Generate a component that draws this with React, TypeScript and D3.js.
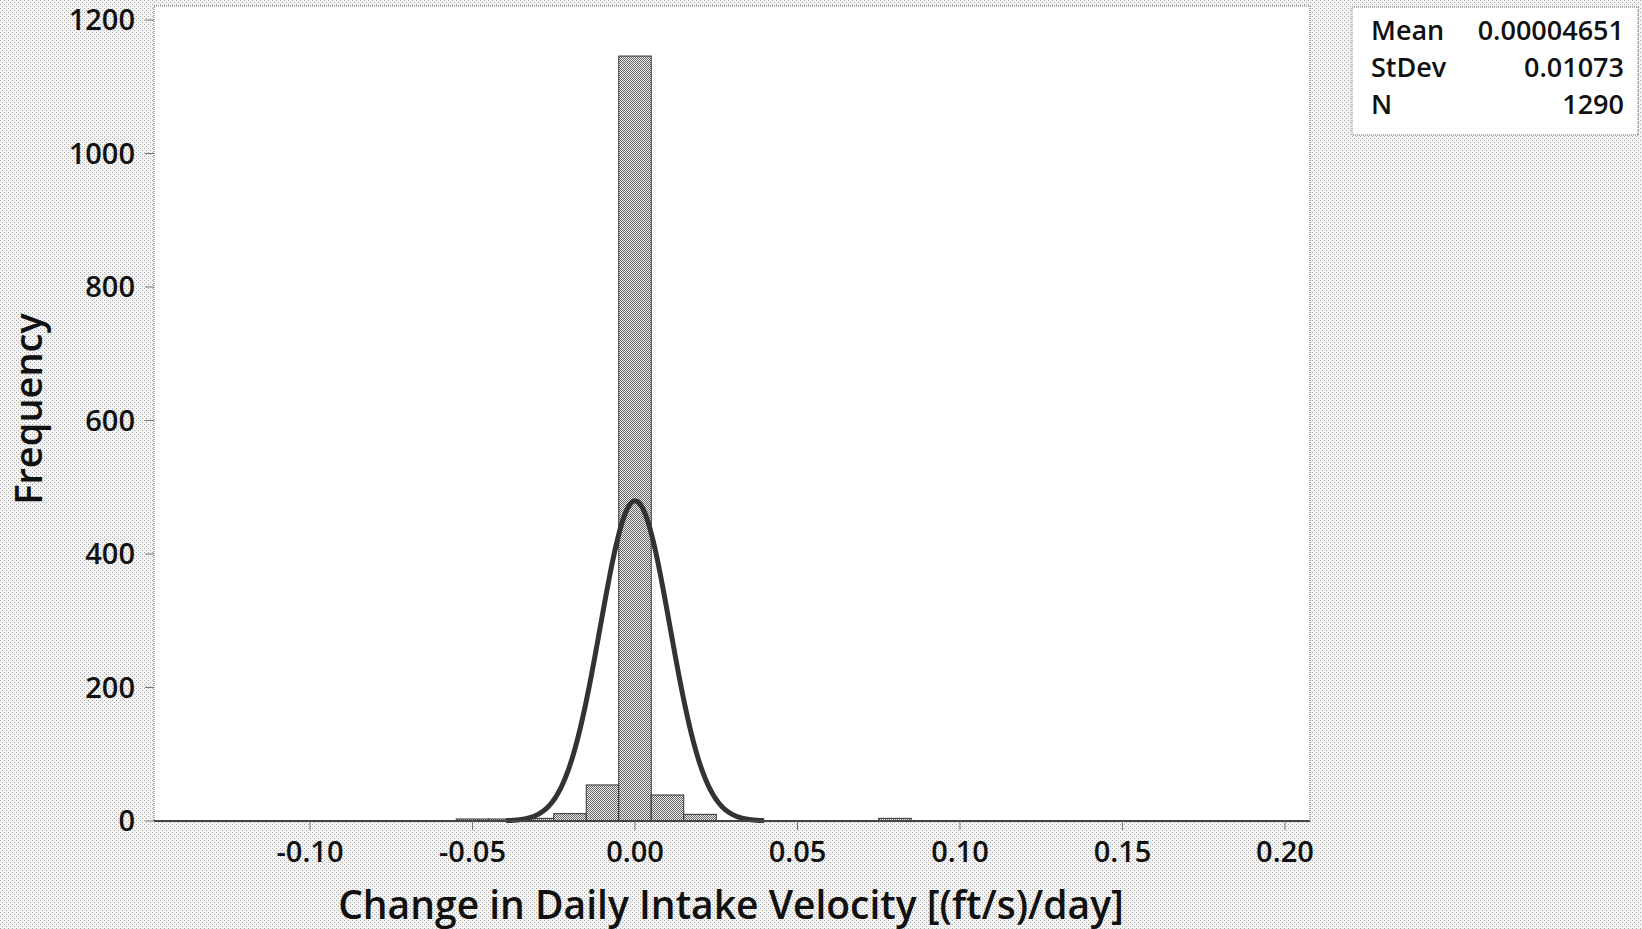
import React from "react";
import * as d3 from "d3";

const binCenters = [-0.05, -0.04, -0.03, -0.02, -0.01, 0.0, 0.01, 0.02, 0.08];
const binCounts = [3, 3, 4, 11, 54, 1146, 39, 10, 4];
const binWidth = 0.01;
const xTicks = [-0.1, -0.05, 0, 0.05, 0.1, 0.15, 0.2];
const yTicks = [0, 200, 400, 600, 800, 1000, 1200];
const statLabels = ["Mean", "StDev", "N"];
const statValues = ["0.00004651", "0.01073", "1290"];
const meanVal = 0.00004651;
const sdVal = 0.01073;
const nVal = 1290;

const W = 1642;
const H = 929;
const plot = { left: 154, right: 1310, top: 6, bottom: 821 };
const FONT = "'Open Sans', 'Noto Sans', sans-serif";

export default function App() {
  const x = d3.scaleLinear().domain([-0.148, 0.2077]).range([plot.left, plot.right]);
  const y = d3.scaleLinear().domain([0, 1221]).range([plot.bottom, plot.top]);

  const curveX = d3.range(meanVal - 3.7 * sdVal, meanVal + 3.7 * sdVal + 1e-9, sdVal / 40);
  const pdf = (v: number) =>
    (nVal * binWidth) / (sdVal * Math.sqrt(2 * Math.PI)) * Math.exp(-0.5 * ((v - meanVal) / sdVal) ** 2);
  const line = d3
    .line<number>()
    .x((d) => x(d))
    .y((d) => y(pdf(d)))
    .curve(d3.curveBasis);

  return (
    <svg width={W} height={H} style={{ position: "absolute", left: 0, top: 0 }} fontFamily={FONT}>
      <defs>
        <pattern id="bg" width="4" height="4" patternUnits="userSpaceOnUse">
          <rect width="4" height="4" fill="#f3f3f3" />
          <rect x="0" y="0" width="1" height="1" fill="#a8a8a8" />
          <rect x="2" y="2" width="1" height="1" fill="#a8a8a8" />
        </pattern>
        <pattern id="barfill" width="2" height="2" patternUnits="userSpaceOnUse">
          <rect width="2" height="2" fill="#eeeeee" />
          <rect x="0" y="0" width="1" height="1" fill="#666" />
          <rect x="1" y="1" width="1" height="1" fill="#666" />
        </pattern>
      </defs>
      <rect width={W} height={H} fill="url(#bg)" />
      <rect
        x={plot.left}
        y={plot.top}
        width={plot.right - plot.left}
        height={plot.bottom - plot.top}
        fill="#fff"
        stroke="#666"
        strokeWidth={1}
        strokeDasharray="1 1"
      />
      {/* bars */}
      {binCenters.map((c, i) => (
        <rect
          key={i}
          x={x(c - binWidth / 2)}
          y={y(binCounts[i])}
          width={x(c + binWidth / 2) - x(c - binWidth / 2)}
          height={y(0) - y(binCounts[i])}
          fill="url(#barfill)"
          stroke="#333"
          strokeWidth={1}
        />
      ))}
      {/* normal curve */}
      <path d={line(curveX) || ""} fill="none" stroke="#333" strokeWidth={5} />
      {/* bottom axis line */}
      <line x1={plot.left} x2={plot.right} y1={plot.bottom} y2={plot.bottom} stroke="#444" strokeWidth={2} />
      {/* x ticks */}
      {xTicks.map((t) => (
        <g key={t}>
          <line x1={x(t)} x2={x(t)} y1={plot.bottom} y2={plot.bottom + 9} stroke="#777" strokeWidth={1} />
          <text x={x(t)} y={862} textAnchor="middle" fontSize={29} fontWeight={600} fill="#111">
            {d3.format(".2f")(t).replace("−", "-")}
          </text>
        </g>
      ))}
      {/* y ticks */}
      {yTicks.map((t) => (
        <g key={t}>
          <line x1={plot.left - 9} x2={plot.left} y1={y(t)} y2={y(t)} stroke="#777" strokeWidth={1} />
          <text x={135} y={y(t) + 10} textAnchor="end" fontSize={29} fontWeight={600} fill="#111">
            {t}
          </text>
        </g>
      ))}
      {/* axis titles */}
      <text x={731} y={919} textAnchor="middle" fontSize={39} fontWeight={600} fill="#111">
        Change in Daily Intake Velocity [(ft/s)/day]
      </text>
      <text
        transform={`translate(42, ${409}) rotate(-90)`}
        textAnchor="middle"
        fontSize={38}
        fontWeight={600}
        fill="#111"
      >
        Frequency
      </text>
      {/* stats box */}
      <rect x={1352} y={7} width={286} height={128} fill="#fff" stroke="#666" strokeWidth={1} strokeDasharray="1 1" />
      {statLabels.map((s, i) => (
        <g key={s}>
          <text x={1371} y={40 + i * 37} fontSize={27} fontWeight={600} fill="#111">
            {s}
          </text>
          <text x={1624} y={40 + i * 37} fontSize={27} fontWeight={600} fill="#111" textAnchor="end">
            {statValues[i]}
          </text>
        </g>
      ))}
    </svg>
  );
}
